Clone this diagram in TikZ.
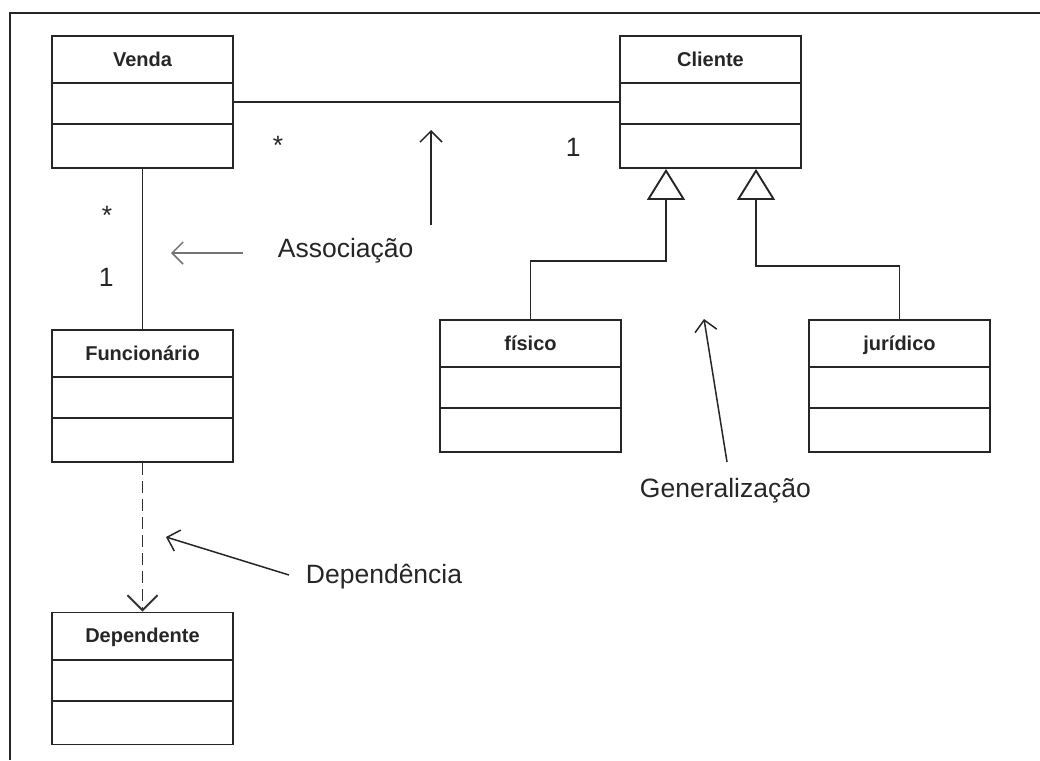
\documentclass[tikz,border=0pt]{standalone}
\usepackage{fontspec}
\setmainfont{Liberation Sans}
\usetikzlibrary{arrows.meta}

\begin{document}
\begin{tikzpicture}[x=1pt, y=-1pt, line width=1.9pt,
    classbox/.style={draw=black!85, minimum width=181pt, minimum height=132pt, inner sep=0pt},
    classtitle/.style={font=\fontsize{20}{24}\selectfont\bfseries, text=black!85, inner sep=0pt, anchor=base},
    note/.style={font=\fontsize{26.5}{30}\selectfont, text=black!85, inner sep=0pt, anchor=base west},
    pointer/.style={-{Straight Barb[length=11pt,width=22pt]}, line width=1.5pt, draw=black!85},
    gen/.style={draw=black!85, -{Triangle[open,length=31pt,width=38pt]}},
    dep/.style={draw=black!80, dash pattern=on 12pt off 6pt, -{Straight Barb[length=15pt,width=30pt]}}]
        \useasboundingbox (0,0) rectangle (1040,760);
        % frame
        \draw[black!85] (10,760) -- (10,13) -- (1040,13);

        % classes
        \foreach \name/\x/\y/\title in {venda/142.5/102/Venda, cliente/710.5/102/Cliente,
            funcionario/142.5/396/Funcionário, dependente/142.5/678.5/Dependente,
            fisico/530.5/386/físico, juridico/899.5/386/jurídico} {
        \node[classbox] (\name) at (\x,\y) {};
        \node[classtitle] (\name-title) at ([yshift=-31pt]\name.north) {\title};
        \draw[black!85] ([yshift=-48pt]\name.north west) -- ([yshift=-48pt]\name.north east);
        \draw[black!85] ([yshift=-89pt]\name.north west) -- ([yshift=-89pt]\name.north east);
        }

        % associations
        \draw[black!85] (venda.east) -- (cliente.west);
        \draw[black!85] (venda.south) -- (funcionario.north);
        \node[note] (mult-vc) at (272,154) {*};
        \node[note] (mult-cv) at (565,156) {1};
        \node[note] (mult-vf) at (101,224) {*};
        \node[note] (mult-fv) at (98,286) {1};

        % generalization
        \coordinate (gen-a) at ([xshift=-44.5pt]cliente.south);
        \coordinate (gen-b) at ([xshift=45.5pt]cliente.south);
        \coordinate (bend-a) at (530.5,261);
        \coordinate (bend-b) at (899.5,266);
        \draw[gen] (fisico.north) -- (bend-a) -| (gen-a);
        \draw[gen] (juridico.north) -- (bend-b) -| (gen-b);

        % dependency
        \draw[dep] (funcionario.south) -- (dependente.north);

        % notes
        \node[note] (assoc) at (277,257) {Associação};
        \node[note] (depend) at (305,583) {Dependência};
        \node[note] (general) at (639,497) {Generalização};
        \coordinate (assoc-up) at (431,225);
        \coordinate (assoc-up-tip) at (431,130);
        \coordinate (assoc-left) at (243,253);
        \coordinate (assoc-left-tip) at (171,253);
        \coordinate (depend-tail) at (289,575);
        \coordinate (depend-tip) at (166,537);
        \coordinate (general-tail) at (727,462);
        \coordinate (general-tip) at (704,319);
        \draw[pointer] (assoc-up) -- (assoc-up-tip);
        \draw[pointer, draw=black!55] (assoc-left) -- (assoc-left-tip);
        \draw[pointer] (depend-tail) -- (depend-tip);
        \draw[pointer] (general-tail) -- (general-tip);

    \end{tikzpicture}
\end{document}
